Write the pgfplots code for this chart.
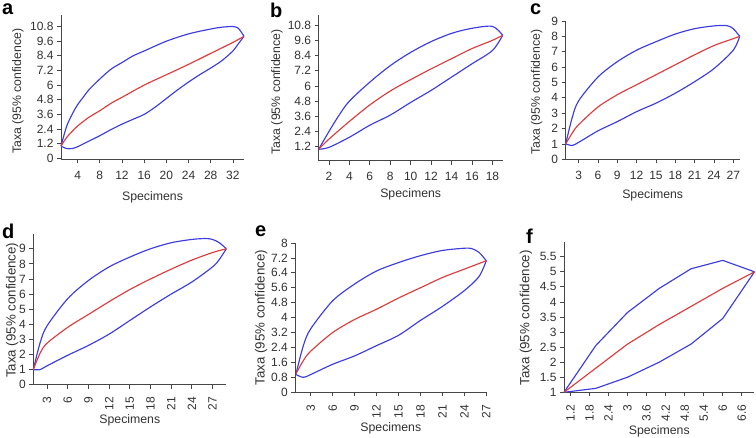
\documentclass[border=0pt]{standalone}
\usepackage{pgfplots}
\pgfplotsset{compat=1.18}
\usepackage{fontspec}
\setmainfont{Liberation Sans}
\definecolor{envblue}{RGB}{60,60,225}
\definecolor{meanred}{RGB}{220,60,60}
\definecolor{axgrey}{RGB}{70,70,70}
\definecolor{txtgrey}{RGB}{50,50,50}
\pgfplotsset{
  panel/.style={
    scale only axis,
    anchor=south west,
    axis lines=left,
    enlargelimits=false,
    clip=false,
    tick align=outside,
    major tick length=4pt,
    axis line style={-, axgrey, line width=0.8pt},
    tick style={axgrey, line width=0.8pt},
    /pgf/number format/assume math mode=true,
    tick label style={font=\fontsize{12}{14}\selectfont, text=txtgrey},
    xticklabel style={yshift=-4pt},
    label style={font=\fontsize{12.3}{14}\selectfont, text=txtgrey},
    xlabel={Specimens},
    ylabel={Taxa (95\% confidence)},
    xlabel style={at={(axis description cs:0.5,0)}, anchor=center, yshift=-36pt},
    every axis plot/.append style={line width=1.15pt, no marks},
  },
  % ylabel is rotated by 90, so yshift>0 moves it left and xshift<0 moves it down
  yl/.style={ylabel style={at={(axis description cs:0,0.5)}, anchor=center, yshift=#1pt}},
  env/.style={envblue, smooth},
  avg/.style={meanred, smooth},
  rot/.style={xticklabel style={rotate=90, anchor=east, yshift=0pt, xshift=-1pt},
    ylabel style={font=\fontsize{13.3}{15}\selectfont}},
}
\newcommand{\plab}[3]{\node[anchor=north west, font=\fontsize{20}{22}\selectfont\bfseries, inner sep=0pt] at (#1pt,#2pt) {#3};}
\begin{document}
\begin{tikzpicture}[x=1pt,y=1pt]

% a
\begin{axis}[panel, yl=43, at={(61pt,278.5pt)}, width=183pt, height=144.5pt,
  xmin=1, xmax=34, ymin=-0.1, ymax=11.75,
  xtick={4,8,...,32}, ytick={0,1.2,2.4,3.6,4.8,6,7.2,8.4,9.6,10.8},
  xlabel style={yshift=-1.5pt}, ylabel style={xshift=-4pt}]
\addplot[env] coordinates {(1,1)(2,2.6)(3,3.6)(4,4.4)(5,5.0)(6,5.6)(8,6.5)(10,7.3)(12,7.85)(14,8.4)(16,8.8)(20,9.6)(24,10.2)(28,10.6)(30,10.75)(32,10.8)(33,10.65)(34,10)};
\addplot[env] coordinates {(1,1)(2,0.8)(3,0.8)(4,0.95)(6,1.4)(8,1.85)(10,2.35)(12,2.8)(14,3.2)(16,3.6)(18,4.2)(20,4.9)(22,5.6)(24,6.25)(26,6.85)(28,7.4)(30,8.0)(32,8.8)(33,9.4)(34,10)};
\addplot[avg] coordinates {(1,1)(2,1.7)(3,2.2)(4,2.65)(6,3.35)(8,3.9)(10,4.5)(12,5.0)(16,6.0)(20,6.85)(24,7.7)(28,8.6)(32,9.5)(34,10)};
\end{axis}

% b
\begin{axis}[panel, yl=41.7, at={(318.7pt,277.3pt)}, width=184pt, height=145.7pt,
  xmin=1, xmax=19, ymin=0.1, ymax=11.6,
  xtick={2,4,...,18}, ytick={1.2,2.4,3.6,4.8,6,7.2,8.4,9.6,10.8},
  xlabel style={yshift=2pt}, ylabel style={xshift=-4pt}]
\addplot[env] coordinates {(1,1)(2,2.4)(3,3.7)(4,4.8)(6,6.3)(8,7.6)(10,8.65)(12,9.5)(14,10.15)(16,10.55)(18,10.7)(19,10)};
\addplot[env] coordinates {(1,1)(2,1.15)(4,1.95)(6,2.9)(8,3.7)(10,4.7)(12,5.65)(14,6.7)(16,7.75)(18,8.8)(19,10)};
\addplot[avg] coordinates {(1,1)(2,1.8)(4,3.2)(6,4.5)(8,5.6)(10,6.5)(12,7.35)(14,8.15)(16,8.95)(18,9.6)(19,10)};
\end{axis}

% c
\begin{axis}[panel, yl=29, at={(565.7pt,278.7pt)}, width=174pt, height=138.3pt,
  xmin=1, xmax=28, ymin=0, ymax=9,
  xtick={3,6,...,27}, ytick={0,1,...,9}, ylabel style={xshift=-2pt}]
\addplot[env] coordinates {(1,1)(2,2.7)(3,3.8)(6,5.35)(9,6.35)(12,7.1)(15,7.65)(18,8.15)(21,8.5)(24,8.68)(26,8.7)(27,8.5)(28,8)};
\addplot[env] coordinates {(1,1)(2,0.9)(3,1.1)(6,1.85)(9,2.45)(12,3.1)(15,3.65)(18,4.3)(21,5.05)(24,5.9)(27,7.1)(28,8)};
\addplot[avg] coordinates {(1,1)(2,1.7)(3,2.25)(6,3.4)(9,4.2)(12,4.85)(15,5.5)(18,6.15)(21,6.8)(24,7.4)(27,7.85)(28,8)};
\end{axis}

% d
\begin{axis}[panel, rot, yl=21, at={(33.3pt,53.3pt)}, width=193pt, height=151pt,
  xmin=1, xmax=29, ymin=0, ymax=10,
  xtick={3,6,...,27}, ytick={0,1,...,9}, ylabel style={xshift=-1pt}]
\addplot[env] coordinates {(1,1)(2,2.8)(3,3.9)(6,5.7)(9,6.9)(12,7.8)(15,8.45)(18,9.0)(21,9.4)(24,9.62)(26,9.68)(27,9.62)(28,9.4)(29,9)};
\addplot[env] coordinates {(1,1)(2,1.0)(3,1.25)(6,1.95)(9,2.6)(12,3.35)(15,4.25)(18,5.15)(21,6.0)(24,6.8)(27,7.8)(28,8.3)(29,9)};
\addplot[avg] coordinates {(1,1)(2,2.1)(3,2.75)(6,3.8)(9,4.65)(12,5.5)(15,6.3)(18,7.0)(21,7.65)(24,8.25)(27,8.75)(29,9)};
\end{axis}

% e
\begin{axis}[panel, rot, yl=34, at={(295.3pt,45.7pt)}, width=191pt, height=149.3pt,
  xmin=0.9, xmax=27, ymin=0, ymax=8,
  xtick={3,6,...,27}, ytick={0,0.8,1.6,2.4,3.2,4,4.8,5.6,6.4,7.2,8}]
\addplot[env] coordinates {(1,1)(2,2.5)(3,3.4)(6,4.9)(9,5.8)(12,6.5)(15,6.95)(18,7.32)(21,7.6)(24,7.72)(25,7.7)(26,7.5)(27,7.05)};
\addplot[env] coordinates {(1,0.95)(2,0.8)(3,0.95)(6,1.5)(9,1.95)(12,2.5)(15,3.05)(18,3.85)(21,4.6)(24,5.45)(26,6.2)(27,7.05)};
\addplot[avg] coordinates {(1,1)(2,1.7)(3,2.2)(6,3.2)(9,3.9)(12,4.45)(15,5.05)(18,5.6)(21,6.15)(24,6.6)(27,7.05)};
\end{axis}

% f
\begin{axis}[panel, rot, yl=38, at={(564pt,45.7pt)}, width=190.5pt, height=150.6pt,
  xmin=1, xmax=7, ymin=1, ymax=6,
  xtick={1.2,1.8,2.4,3,3.6,4.2,4.8,5.4,6,6.6}, ytick={1,1.5,...,5.5},
  xlabel style={yshift=-3pt}, ylabel style={xshift=-1pt}]
\addplot[envblue] coordinates {(1,1)(2,2.55)(3,3.65)(4,4.45)(5,5.1)(6,5.38)(7,5)};
\addplot[envblue] coordinates {(1,1)(2,1.13)(3,1.5)(4,2.0)(5,2.6)(6,3.45)(7,5)};
\addplot[meanred] coordinates {(1,1)(2,1.8)(3,2.6)(4,3.25)(5,3.85)(6,4.45)(7,5)};
\end{axis}

\plab{2}{434}{a}
\plab{270}{435}{b}
\plab{530}{434}{c}
\plab{2}{214}{d}
\plab{255}{212}{e}
\plab{526}{209}{f}

\pgfresetboundingbox
\path (0,0) rectangle (756,438);
\end{tikzpicture}
\end{document}
